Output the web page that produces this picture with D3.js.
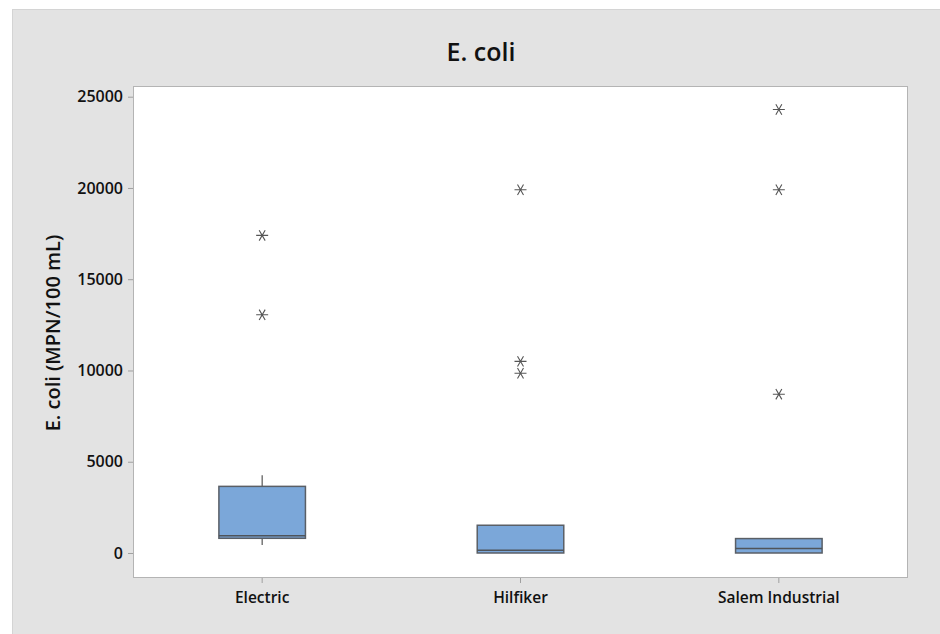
<!DOCTYPE html>
<html>
<head>
<meta charset="utf-8">
<script src="https://cdn.jsdelivr.net/npm/d3@7"></script>
<style>
  body { margin: 0; background: #ffffff; }
  svg { display: block; }
  text { font-family: "Open Sans", "Noto Sans", sans-serif; fill: #111; }
</style>
</head>
<body>
<svg id="chart" width="940" height="634"></svg>
<script>
// ---- data ----
const categories = ["Electric", "Hilfiker", "Salem Industrial"];
const q1Values = [805, 0, 0];
const medianValues = [950, 150, 240];
const q3Values = [3650, 1520, 790];
const whiskerLowValues = [440, 0, 0];
const whiskerHighValues = [4260, 1520, 790];
const outlierValues = [
  [17400, 13050],
  [19900, 10500, 9850],
  [24300, 19900, 8700]
];
const yTickValues = [0, 5000, 10000, 15000, 20000, 25000];
const titleText = "E. coli";
const yAxisTitle = "E. coli (MPN/100 mL)";

// ---- layout ----
const W = 940, H = 634;
const plot = { left: 133, top: 86, right: 908, bottom: 578 };

const svg = d3.select("#chart");

// outer panel
svg.append("rect")
  .attr("x", 12.5).attr("y", 9.5)
  .attr("width", W - 12).attr("height", H - 9)
  .attr("fill", "#e3e3e3").attr("stroke", "#d4d4d4");

// plot area
svg.append("rect")
  .attr("x", plot.left).attr("y", plot.top)
  .attr("width", plot.right - plot.left).attr("height", plot.bottom - plot.top)
  .attr("fill", "#ffffff");

const x = d3.scaleBand().domain(categories)
  .range([plot.left, plot.right]).paddingInner(0).paddingOuter(0);
const y = d3.scaleLinear().domain([-1370, 25586]).range([plot.bottom, plot.top]);

// axes
const yAxis = d3.axisLeft(y).tickValues(yTickValues).tickSize(5).tickPadding(5).tickFormat(d3.format("d"));
const gy = svg.append("g").attr("transform", `translate(${plot.left},0)`).call(yAxis);
gy.select(".domain").remove();
gy.selectAll("line").attr("stroke", "#a0a0a0");
gy.selectAll("text").style("font-size", "16px").style("font-weight", 600).attr("fill", "#111");

const xAxis = d3.axisBottom(x).tickSize(5).tickPadding(9);
const gx = svg.append("g").attr("transform", `translate(0,${plot.bottom})`).call(xAxis);
gx.select(".domain").remove();
gx.selectAll("line").attr("stroke", "#a0a0a0");
gx.selectAll("text").style("font-size", "15.5px").style("font-weight", 600).attr("fill", "#111");

// plot border
svg.append("rect")
  .attr("x", plot.left + 0.5).attr("y", plot.top + 0.5)
  .attr("width", plot.right - plot.left - 1).attr("height", plot.bottom - plot.top - 1)
  .attr("fill", "none").attr("stroke", "#b4b4b4");

// boxes
const boxW = x.bandwidth() * 0.335;
const rows = categories.map((c, i) => ({
  cat: c, q1: q1Values[i], med: medianValues[i], q3: q3Values[i],
  lo: whiskerLowValues[i], hi: whiskerHighValues[i], out: outlierValues[i]
}));
const cx = d => x(d.cat) + x.bandwidth() / 2;

const g = svg.append("g");
// whiskers
g.selectAll(".wlo").data(rows).join("line")
  .attr("x1", cx).attr("x2", cx)
  .attr("y1", d => y(d.q1)).attr("y2", d => y(d.lo))
  .attr("stroke", "#555").attr("stroke-width", 1.2);
g.selectAll(".whi").data(rows).join("line")
  .attr("x1", cx).attr("x2", cx)
  .attr("y1", d => y(d.q3)).attr("y2", d => y(d.hi))
  .attr("stroke", "#555").attr("stroke-width", 1.2);
// box
g.selectAll(".box").data(rows).join("rect")
  .attr("x", d => cx(d) - boxW / 2).attr("width", boxW)
  .attr("y", d => y(d.q3)).attr("height", d => y(d.q1) - y(d.q3))
  .attr("fill", "#7ba7d9").attr("stroke", "#5a5f66").attr("stroke-width", 1.5);
// median
g.selectAll(".med").data(rows).join("line")
  .attr("x1", d => cx(d) - boxW / 2).attr("x2", d => cx(d) + boxW / 2)
  .attr("y1", d => y(d.med)).attr("y2", d => y(d.med))
  .attr("stroke", "#4f545a").attr("stroke-width", 1.5);

// outliers (asterisks)
const outPts = rows.flatMap(d => d.out.map(v => ({ cat: d.cat, v })));
const r = 6;
const star = `M${-r},0L${r},0M${-r*0.5},${-r*0.866}L${r*0.5},${r*0.866}M${-r*0.5},${r*0.866}L${r*0.5},${-r*0.866}`;
g.selectAll(".out").data(outPts).join("path")
  .attr("transform", d => `translate(${cx(d)},${y(d.v)})`)
  .attr("d", star)
  .attr("fill", "none").attr("stroke", "#555").attr("stroke-width", 1.1);

// title
svg.append("text")
  .attr("x", 481).attr("y", 61)
  .attr("text-anchor", "middle")
  .style("font-size", "25px").style("font-weight", 600)
  .text(titleText);

// y axis title
svg.append("text")
  .attr("transform", `translate(60,333) rotate(-90)`)
  .attr("text-anchor", "middle")
  .style("font-size", "20px").style("font-weight", 600)
  .text(yAxisTitle);
</script>
</body>
</html>
